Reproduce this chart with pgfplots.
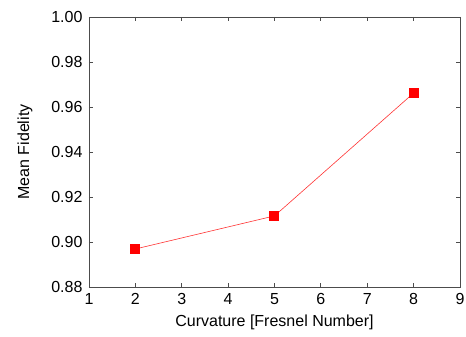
\documentclass[border=0pt]{standalone}
\usepackage{fontspec}
\setmainfont{Liberation Sans}
\usepackage{pgfplots}
\pgfplotsset{compat=1.18}
\begin{document}
\begin{tikzpicture}
\path[use as bounding box] (-89pt,-50pt) rectangle (377pt,287pt);
\begin{axis}[
  scale only axis,
  width=371pt, height=270pt,
  xmin=1, xmax=9, ymin=0.88, ymax=1.00,
  xtick={1,2,...,9},
  ytick={0.88,0.90,0.92,0.94,0.96,0.98,1.00},
  yticklabel style={/pgf/number format/fixed, /pgf/number format/fixed zerofill, /pgf/number format/precision=2, xshift=-3pt},
  xticklabel style={yshift=-3pt},
  /pgf/number format/assume math mode=true,
  tick align=inside,
  tick pos=both,
  major tick length=4pt,
  axis line style={black!70, line width=0.8pt},
  every tick/.style={black!70, line width=0.8pt},
  font=\fontsize{16}{18}\selectfont,
  xlabel={Curvature [Fresnel Number]},
  ylabel={Mean Fidelity},
  every axis x label/.style={at={(axis description cs:0.5,-0.13)}, anchor=center},
  every axis y label/.style={at={(axis description cs:-0.1725,0.5)}, anchor=center, rotate=90},
]
\addplot[color=red!80, line width=0.6pt, mark=square*, mark size=4.5pt, mark options={fill=red, draw=red, line width=0pt}]
  coordinates {(2,0.8969) (5,0.9116) (8,0.9662)};
\end{axis}
\end{tikzpicture}
\end{document}
